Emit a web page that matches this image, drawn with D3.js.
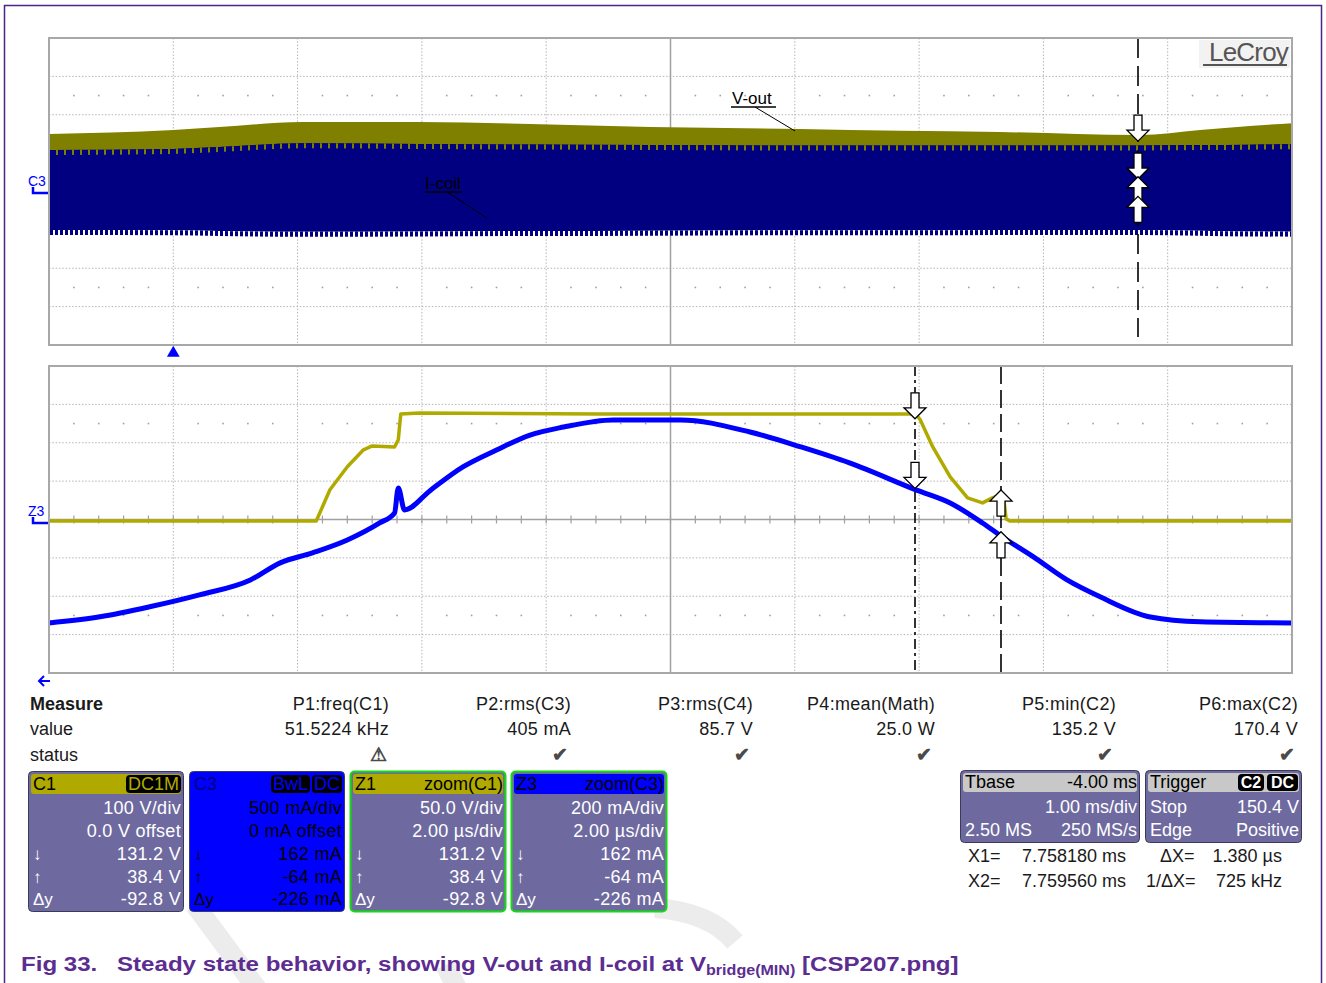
<!DOCTYPE html>
<html>
<head>
<meta charset="utf-8">
<script src="https://cdn.jsdelivr.net/npm/d3@7"></script>
<style>
  body { margin: 0; background: #fff; }
  svg text { font-family: "Liberation Sans", Arial, sans-serif; }
</style>
</head>
<body>
<div id="scope"></div>
<script>
// ---- top panel: 1.00 ms/div, envelopes of the long acquisition ----
var topTimeMs   = [-1, 0, 0.37, 1.04, 1.98, 2.87, 3.84, 5.04, 5.85, 6.65, 7.77, 8.26, 8.66, 9];
var voutMax     = [150, 160, 168, 181, 181, 176, 168, 163, 158, 155, 147, 160, 171, 178];   // V (C1)
var icoilMax    = [540, 555, 580, 630, 620, 612, 605, 600, 600, 600, 600, 605, 610, 615];   // mA (C3)
var icoilMin    = [-500, -505, -515, -525, -520, -515, -510, -505, -505, -500, -500, -510, -520, -525];

// ---- bottom panel: zoom 2.00 us/div, time in us from start of zoom window ----
var zoomStartMs = 7.74424;
var z1Time  = [0, 4.3, 4.52, 4.8, 5.06, 5.2, 5.56, 5.62, 5.66, 5.96, 8.86, 13.94, 14.02, 14.22, 14.5, 14.78, 15.02, 15.18, 15.3, 15.36, 15.4, 15.46, 20];
var z1Volts = [-2, -2, 38.8, 68.7, 90.8, 95.8, 94.5, 103.9, 137.6, 138.8, 137.5, 137.5, 129.7, 94.5, 55.4, 28.1, 21.6, 28.1, 32, 29.4, 0.8, -2, -2];
var z3Time  = [0, 0.82, 1.62, 2.42, 3.24, 3.72, 4.24, 4.8, 5.32, 5.56, 5.62, 5.72, 6.14, 6.66, 7.2, 7.74, 8.28, 9.08, 10.16, 11.28, 12.1, 12.88, 13.96, 14.5, 15.02, 15.34, 15.84, 16.38, 16.92, 17.72, 18.52, 20];
var z3mA    = [-539, -507, -455, -393, -315, -226, -174, -107, -18, 34, 164, 50, 153, 274, 362, 440, 482, 519, 519, 456, 378, 295, 153, 86, -18, -91, -195, -315, -404, -508, -533, -539];

// cursors
var cursorX1Ms = 7.758180;
var cursorX2Ms = 7.759560;
var c1Cursor = [131.2, 38.4];   // V at X1, X2
var c3Cursor = [162, -64];      // mA at X1, X2

// measurement table
var measNames  = ["P1:freq(C1)", "P2:rms(C3)", "P3:rms(C4)", "P4:mean(Math)", "P5:min(C2)", "P6:max(C2)"];
var measValues = ["51.5224 kHz", "405 mA", "85.7 V", "25.0 W", "135.2 V", "170.4 V"];
var measStatus = ["warn", "ok", "ok", "ok", "ok", "ok"];

// channel descriptors
var chanNames   = ["C1", "C3", "Z1", "Z3"];
var chanTags    = [["DC1M"], ["BwL", "DC"], ["zoom(C1)"], ["zoom(C3)"]];
var chanScale   = ["100 V/div", "500 mA/div", "50.0 V/div", "200 mA/div"];
var chanSecond  = ["0.0 V offset", "0 mA offset", "2.00 µs/div", "2.00 µs/div"];
var chanAtX1    = ["131.2 V", "162 mA", "131.2 V", "162 mA"];
var chanAtX2    = ["38.4 V", "-64 mA", "38.4 V", "-64 mA"];
var chanDelta   = ["-92.8 V", "-226 mA", "-92.8 V", "-226 mA"];

var W = 1326, H = 983;
var svg = d3.select("#scope").append("svg").attr("width", W).attr("height", H);

var OLIVE_DARK = "#808000", NAVY = "#000080", OLIVE = "#b0aa00", BLUE = "#0000ff";
var BOXBODY = "#6e6aa0";

svg.append("rect").attr("width", W).attr("height", H).attr("fill", "#fff");

// faint watermark swooshes
var wm = svg.append("g").attr("fill", "none").attr("stroke", "#ececec").attr("stroke-width", 20);
wm.append("path").attr("d", "M195,905 L258,990");
wm.append("path").attr("d", "M655,908 Q710,912 735,942");
wm.append("path").attr("d", "M445,965 L458,990");

// outer frame
svg.append("path").attr("d", "M4.5,990 V5.5 H1321.5 V990")
    .attr("fill", "none").attr("stroke", "#4b2585").attr("stroke-width", 1.5);

var defs = svg.append("defs");
var pt = defs.append("pattern").attr("id", "combTop").attr("patternUnits", "userSpaceOnUse")
    .attr("width", 8).attr("height", 20);
pt.append("rect").attr("width", 8).attr("height", 20).attr("fill", NAVY);
pt.append("rect").attr("width", 2).attr("height", 20).attr("fill", OLIVE_DARK);
var pb = defs.append("pattern").attr("id", "combBot").attr("patternUnits", "userSpaceOnUse")
    .attr("width", 5).attr("height", 20);
pb.append("rect").attr("width", 5).attr("height", 20).attr("fill", NAVY);
pb.append("rect").attr("x", 3).attr("width", 2).attr("height", 20).attr("fill", "#fff");

var X0 = 49, X1 = 1292;
var topY0 = 38, topY1 = 345, botY0 = 366, botY1 = 673;
var divX = (X1 - X0) / 10;

function drawGrid(g, y0, y1) {
    var dy = (y1 - y0) / 8;
    g.append("rect").attr("x", X0).attr("y", y0).attr("width", X1 - X0).attr("height", y1 - y0).attr("fill", "#fff");
    d3.range(1, 10).forEach(function(i) {
        if (i === 5) return;
        g.append("line").attr("x1", X0 + i * divX).attr("x2", X0 + i * divX).attr("y1", y0).attr("y2", y1)
            .attr("stroke", "#b4b4b4").attr("stroke-dasharray", "1.5,1.8");
    });
    d3.range(1, 8).forEach(function(j) {
        if (j === 4) return;
        g.append("line").attr("x1", X0).attr("x2", X1).attr("y1", y0 + j * dy).attr("y2", y0 + j * dy)
            .attr("stroke", "#b4b4b4").attr("stroke-dasharray", "1.5,1.8");
    });
    // rows of fine dots
    [1.5, 6.5].forEach(function(j) {
        d3.range(1, 50).forEach(function(k) {
            if (k % 5 === 0) return;
            g.append("rect").attr("x", X0 + k * divX / 5 - 0.8).attr("y", y0 + j * dy - 0.8)
                .attr("width", 1.6).attr("height", 1.6).attr("fill", "#a0a0a0");
        });
    });
    var cy = y0 + 4 * dy;
    g.append("line").attr("x1", X0).attr("x2", X1).attr("y1", cy).attr("y2", cy)
        .attr("stroke", "#a0a0a0").attr("stroke-width", 1.5);
    d3.range(1, 50).forEach(function(k) {
        g.append("line").attr("x1", X0 + k * divX / 5).attr("x2", X0 + k * divX / 5)
            .attr("y1", cy - 4).attr("y2", cy + 4).attr("stroke", "#a0a0a0").attr("stroke-width", 1.2);
    });
    g.append("line").attr("x1", X0 + 5 * divX).attr("x2", X0 + 5 * divX).attr("y1", y0).attr("y2", y1)
        .attr("stroke", "#a0a0a0").attr("stroke-width", 1.5);
}

function arrow(g, x, y, dir) {
    // dir 1: points down (tip at y), -1: points up
    var d = "M" + x + "," + y + " L" + (x + 11) + "," + (y - dir * 11) + " L" + (x + 4) + "," + (y - dir * 11) +
        " L" + (x + 4) + "," + (y - dir * 26) + " L" + (x - 4) + "," + (y - dir * 26) + " L" + (x - 4) + "," + (y - dir * 11) +
        " L" + (x - 11) + "," + (y - dir * 11) + " Z";
    g.append("path").attr("d", d).attr("fill", "#fff").attr("stroke", "#000").attr("stroke-width", 1.3);
}

// ================= top panel =================
var xTop = d3.scaleLinear().domain([-1, 9]).range([X0, X1]);
var yC1 = d3.scaleLinear().domain([-400, 400]).range([topY1, topY0]);
var yC3 = d3.scaleLinear().domain([-2000, 2000]).range([topY1, topY0]);

var gTop = svg.append("g");
drawGrid(gTop, topY0, topY1);

var topData = topTimeMs.map(function(t, i) {
    return { t: t, vmax: voutMax[i], imax: icoilMax[i], imin: icoilMin[i] };
});
var curve = d3.curveMonotoneX;
gTop.append("path").datum(topData).attr("fill", OLIVE_DARK)
    .attr("d", d3.area().curve(curve).x(function(d) { return xTop(d.t); })
        .y0(function(d) { return yC3(d.imax) + 8; }).y1(function(d) { return yC1(d.vmax); }));
gTop.append("path").datum(topData).attr("fill", NAVY)
    .attr("d", d3.area().curve(curve).x(function(d) { return xTop(d.t); })
        .y0(function(d) { return yC3(d.imin); }).y1(function(d) { return yC3(d.imax); }));
gTop.append("path").datum(topData).attr("fill", "url(#combTop)")
    .attr("d", d3.area().curve(curve).x(function(d) { return xTop(d.t); })
        .y0(function(d) { return yC3(d.imax) + 5; }).y1(function(d) { return yC3(d.imax); }));
gTop.append("path").datum(topData).attr("fill", "url(#combBot)")
    .attr("d", d3.area().curve(curve).x(function(d) { return xTop(d.t); })
        .y0(function(d) { return yC3(d.imin) + 5; }).y1(function(d) { return yC3(d.imin); }));

// trace labels
gTop.append("text").attr("x", 732).attr("y", 104).attr("font-size", 17).attr("fill", "#000").text("V-out");
gTop.append("line").attr("x1", 731).attr("x2", 776).attr("y1", 107).attr("y2", 107).attr("stroke", "#000").attr("stroke-width", 1.3);
gTop.append("line").attr("x1", 755).attr("x2", 795).attr("y1", 107).attr("y2", 131).attr("stroke", "#000");
gTop.append("text").attr("x", 425).attr("y", 189).attr("font-size", 17).attr("fill", "#000").text("I-coil");
gTop.append("line").attr("x1", 425).attr("x2", 462).attr("y1", 192).attr("y2", 192).attr("stroke", "#000").attr("stroke-width", 1.3);
gTop.append("line").attr("x1", 447).attr("x2", 487).attr("y1", 192).attr("y2", 218).attr("stroke", "#000");

// cursor line + arrows (both cursors coincide at this timebase)
var cxTop = Math.round(xTop(cursorX1Ms));
gTop.append("line").attr("x1", cxTop).attr("x2", cxTop).attr("y1", topY0).attr("y2", topY1 - 8)
    .attr("stroke", "#000").attr("stroke-width", 1.6).attr("stroke-dasharray", "20,8");
arrow(gTop, cxTop, yC1(c1Cursor[0]), 1);
arrow(gTop, cxTop, yC3(c3Cursor[0]), 1);
arrow(gTop, cxTop, yC1(c1Cursor[1]), -1);
arrow(gTop, cxTop, yC3(c3Cursor[1]), -1);

// LeCroy logo
gTop.append("rect").attr("x", 1199).attr("y", 40).attr("width", 91).attr("height", 28).attr("fill", "#f2f2f2");
gTop.append("text").attr("x", 1288).attr("y", 61).attr("text-anchor", "end").attr("font-size", 26)
    .attr("fill", "#555").attr("letter-spacing", -0.8).text("LeCroy");
gTop.append("line").attr("x1", 1203).attr("x2", 1287).attr("y1", 65).attr("y2", 65).attr("stroke", "#555").attr("stroke-width", 2);

gTop.append("rect").attr("x", X0).attr("y", topY0).attr("width", X1 - X0).attr("height", topY1 - topY0)
    .attr("fill", "none").attr("stroke", "#a8a8a8").attr("stroke-width", 2);

// C3 marker and trigger marker
svg.append("text").attr("x", 28).attr("y", 186).attr("font-size", 14).attr("fill", BLUE).text("C3");
svg.append("path").attr("d", "M33,187 V193 H48").attr("fill", "none").attr("stroke", BLUE).attr("stroke-width", 2.5);
svg.append("path").attr("d", d3.symbol().type(d3.symbolTriangle).size(70)())
    .attr("transform", "translate(" + xTop(0) + ",353)").attr("fill", BLUE);

// ================= bottom panel =================
var xZ = d3.scaleLinear().domain([0, 20]).range([X0, X1]);
var yZ1 = d3.scaleLinear().domain([-200, 200]).range([botY1, botY0]);
var yZ3 = d3.scaleLinear().domain([-800, 800]).range([botY1, botY0]);

var gBot = svg.append("g");
drawGrid(gBot, botY0, botY1);

var z1 = z1Time.map(function(t, i) { return [t, z1Volts[i]]; });
var z3 = z3Time.map(function(t, i) { return [t, z3mA[i]]; });

gBot.append("path").datum(z1).attr("fill", "none").attr("stroke", OLIVE).attr("stroke-width", 3.5)
    .attr("stroke-linejoin", "round")
    .attr("d", d3.line().x(function(d) { return xZ(d[0]); }).y(function(d) { return yZ1(d[1]); }));
gBot.append("path").datum(z3).attr("fill", "none").attr("stroke", BLUE).attr("stroke-width", 5)
    .attr("stroke-linejoin", "round")
    .attr("d", d3.line().curve(d3.curveMonotoneX).x(function(d) { return xZ(d[0]); }).y(function(d) { return yZ3(d[1]); }));

var zx1 = Math.round(xZ((cursorX1Ms - zoomStartMs) * 1000));
var zx2 = Math.round(xZ((cursorX2Ms - zoomStartMs) * 1000));
gBot.append("line").attr("x1", zx1).attr("x2", zx1).attr("y1", botY0).attr("y2", botY1)
    .attr("stroke", "#000").attr("stroke-width", 1.6).attr("stroke-dasharray", "10,4,3,4");
gBot.append("line").attr("x1", zx2).attr("x2", zx2).attr("y1", botY0).attr("y2", botY1)
    .attr("stroke", "#000").attr("stroke-width", 1.6).attr("stroke-dasharray", "18,6");
arrow(gBot, zx1, yZ1(c1Cursor[0]), 1);
arrow(gBot, zx1, yZ3(c3Cursor[0]), 1);
arrow(gBot, zx2, yZ1(c1Cursor[1]), -1);
arrow(gBot, zx2, yZ3(c3Cursor[1]), -1);

gBot.append("rect").attr("x", X0).attr("y", botY0).attr("width", X1 - X0).attr("height", botY1 - botY0)
    .attr("fill", "none").attr("stroke", "#a8a8a8").attr("stroke-width", 2);

svg.append("text").attr("x", 28).attr("y", 516).attr("font-size", 14).attr("fill", BLUE).text("Z3");
svg.append("path").attr("d", "M33,517 V523 H48").attr("fill", "none").attr("stroke", BLUE).attr("stroke-width", 2.5);
// off-screen marker arrow
svg.append("path").attr("d", "M39,681 H50 M44,676 L39,681 L44,686").attr("fill", "none")
    .attr("stroke", BLUE).attr("stroke-width", 2);

// ================= measurement table =================
var colRight = [389, 571, 753, 935, 1116, 1298];
var tbl = svg.append("g").attr("font-size", 18).attr("fill", "#1a1a1a");
tbl.append("text").attr("x", 30).attr("y", 710).attr("font-weight", "bold").text("Measure");
tbl.append("text").attr("x", 30).attr("y", 735).text("value");
tbl.append("text").attr("x", 30).attr("y", 761).text("status");
measNames.forEach(function(n, i) {
    tbl.append("text").attr("x", colRight[i]).attr("y", 710).attr("text-anchor", "end").attr("letter-spacing", 0.3).text(n);
    tbl.append("text").attr("x", colRight[i]).attr("y", 735).attr("text-anchor", "end").attr("letter-spacing", 0.3).text(measValues[i]);
    tbl.append("text").attr("x", colRight[i] - 11).attr("y", 761).attr("text-anchor", "middle")
        .attr("font-family", "DejaVu Sans").attr("font-size", measStatus[i] === "ok" ? 19 : 19)
        .attr("font-weight", "bold").attr("fill", "#4a4a4a").text(measStatus[i] === "ok" ? "✔" : "⚠");
});

// ================= channel boxes =================
var boxX = [28, 189, 350, 511];
var boxW = 155, boxY = 771, boxH = 140;
var headFill = [OLIVE, BLUE, OLIVE, BLUE];
var bodyFill = [BOXBODY, BLUE, BOXBODY, BOXBODY];
var bodyText = ["#fff", "#000", "#fff", "#fff"];
var headText = ["#000", "#000080", "#000", "#000"];
var rowY = [814, 837, 860, 883, 905];

chanNames.forEach(function(name, i) {
    var g = svg.append("g").attr("font-size", 18);
    var x = boxX[i];
    var isZoom = name.charAt(0) === "Z";
    g.append("rect").attr("x", x + 0.5).attr("y", boxY + 0.5).attr("width", boxW).attr("height", boxH).attr("rx", 4)
        .attr("fill", bodyFill[i]).attr("stroke", isZoom ? "#11dd11" : "#3a3a5a").attr("stroke-width", isZoom ? 2 : 1);
    g.append("rect").attr("x", x + 3).attr("y", boxY + 3).attr("width", boxW - 5).attr("height", 20).attr("rx", 3)
        .attr("fill", headFill[i]);
    g.append("text").attr("x", x + 5).attr("y", boxY + 19).attr("fill", headText[i]).text(name);
    if (isZoom) {
        g.append("text").attr("x", x + boxW - 2).attr("y", boxY + 19).attr("text-anchor", "end").attr("fill", "#000")
            .text(chanTags[i][0]);
    } else {
        var right = x + boxW - 2;
        chanTags[i].slice().reverse().forEach(function(tag) {
            var t = g.append("text").attr("x", right - 2).attr("y", boxY + 19).attr("text-anchor", "end")
                .attr("fill", headFill[i]).text(tag);
            var w = t.node().getComputedTextLength();
            g.insert("rect", function() { return t.node(); }).attr("x", right - w - 4).attr("y", boxY + 4)
                .attr("width", w + 4).attr("height", 18).attr("rx", 4).attr("fill", "#000");
            right = right - w - 6;
        });
    }
    var lines = [chanScale[i], chanSecond[i], chanAtX1[i], chanAtX2[i], chanDelta[i]];
    lines.forEach(function(s, k) {
        g.append("text").attr("x", x + boxW - 2).attr("y", rowY[k]).attr("text-anchor", "end")
            .attr("fill", bodyText[i]).attr("letter-spacing", 0.3).text(s);
    });
    ["↓", "↑", "Δy"].forEach(function(s, k) {
        g.append("text").attr("x", x + 5).attr("y", rowY[k + 2]).attr("fill", bodyText[i]).attr("font-size", 17).text(s);
    });
});

// ================= timebase / trigger =================
function infoBox(x, w, headL, rows) {
    var g = svg.append("g").attr("font-size", 18);
    g.append("rect").attr("x", x + 0.5).attr("y", 770.5).attr("width", w).attr("height", 72).attr("rx", 4)
        .attr("fill", BOXBODY).attr("stroke", "#3a3a5a");
    g.append("rect").attr("x", x + 3).attr("y", 773).attr("width", w - 5).attr("height", 19).attr("rx", 3).attr("fill", "#c8c8c8");
    g.append("text").attr("x", x + 5).attr("y", 788).attr("fill", "#000").text(headL);
    rows.forEach(function(r, k) {
        if (r[0]) g.append("text").attr("x", x + 5).attr("y", 813 + k * 23).attr("fill", "#fff").text(r[0]);
        g.append("text").attr("x", x + w - 2).attr("y", 813 + k * 23).attr("text-anchor", "end").attr("fill", "#fff").text(r[1]);
    });
    return g;
}
var tb = infoBox(960, 179, "Tbase", [["", "1.00 ms/div"], ["2.50 MS", "250 MS/s"]]);
tb.append("text").attr("x", 1137).attr("y", 788).attr("text-anchor", "end").attr("fill", "#000").text("-4.00 ms");
var tr = infoBox(1145, 156, "Trigger", [["Stop", "150.4 V"], ["Edge", "Positive"]]);
[["C2", 1238, 26], ["DC", 1267, 31]].forEach(function(b) {
    tr.append("rect").attr("x", b[1]).attr("y", 774).attr("width", b[2]).attr("height", 17).attr("rx", 4).attr("fill", "#000");
    tr.append("text").attr("x", b[1] + b[2] / 2).attr("y", 788).attr("text-anchor", "middle").attr("font-size", 16)
        .attr("font-weight", "bold").attr("fill", "#fff").text(b[0]);
});

var cur = svg.append("g").attr("font-size", 18).attr("fill", "#1a1a1a");
cur.append("text").attr("x", 968).attr("y", 862).text("X1=");
cur.append("text").attr("x", 1126).attr("y", 862).attr("text-anchor", "end").text(cursorX1Ms.toFixed(6) + " ms");
cur.append("text").attr("x", 968).attr("y", 887).text("X2=");
cur.append("text").attr("x", 1126).attr("y", 887).attr("text-anchor", "end").text(cursorX2Ms.toFixed(6) + " ms");
var dxUs = (cursorX2Ms - cursorX1Ms) * 1000;
cur.append("text").attr("x", 1160).attr("y", 862).text("ΔX=");
cur.append("text").attr("x", 1282).attr("y", 862).attr("text-anchor", "end").text(dxUs.toFixed(3) + " µs");
cur.append("text").attr("x", 1146).attr("y", 887).text("1/ΔX=");
cur.append("text").attr("x", 1282).attr("y", 887).attr("text-anchor", "end").text(Math.round(1000 / dxUs) + " kHz");

// ================= caption =================
var sx = 1.148;
var cap = svg.append("text").attr("transform", "translate(21,971) scale(" + sx + ",1)")
    .attr("font-size", 21).attr("font-weight", "bold").attr("fill", "#5c2d91");
cap.append("tspan").attr("x", 0).text("Fig 33.");
cap.append("tspan").attr("x", (117 - 21) / sx).text("Steady state behavior, showing V-out and I-coil at V");
cap.append("tspan").attr("font-size", 14).attr("dy", 4).text("bridge(MIN)");
cap.append("tspan").attr("dy", -4).text(" [CSP207.png]");
</script>
</body>
</html>
